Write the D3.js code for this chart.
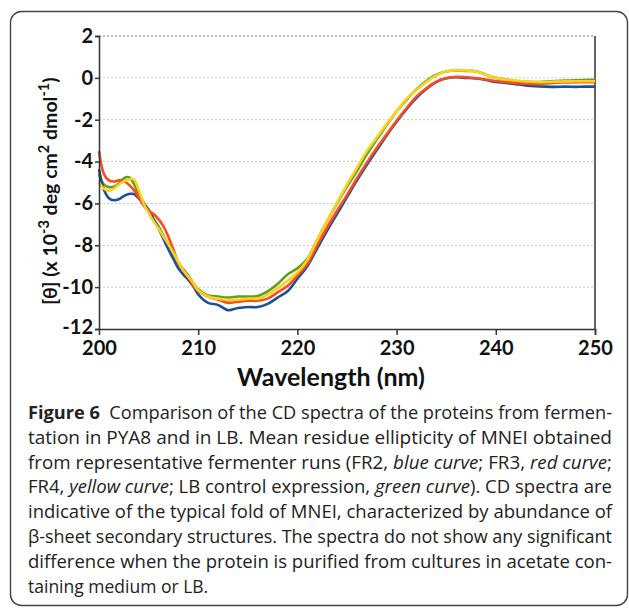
<!DOCTYPE html>
<html>
<head>
<meta charset="utf-8">
<script src="https://cdn.jsdelivr.net/npm/d3@7"></script>
<style>
  body { margin: 0; background: #fff; }
  svg { display: block; }
</style>
</head>
<body>
<div id="chart"></div>
<script>
// wavelengths (nm) shared by all four spectra
var wavelength = [200, 200.5, 201, 201.5, 202, 202.5, 203, 203.5, 204, 204.5, 205, 205.5, 206, 206.5, 207, 207.5,
    208, 208.5, 209, 209.5, 210, 211, 212, 213, 214, 215, 216, 217, 218, 219, 220, 221, 222, 223, 224, 225,
    226, 227, 228, 229, 230, 231, 232, 233, 234, 235, 236, 237, 238, 239, 240, 241, 242, 243, 244, 245, 246,
    247, 248, 249, 250];

// FR2, blue curve
var fr2 = [-4.35, -5.35, -5.75, -5.85, -5.8, -5.65, -5.55, -5.55, -5.75, -6.0, -6.3, -6.75, -7.2, -7.7, -8.2, -8.65,
    -9.1, -9.4, -9.65, -9.95, -10.35, -10.75, -10.85, -11.1, -11.0, -10.95, -10.95, -10.8, -10.5, -10.2, -9.6, -9.0,
    -8.15, -7.3, -6.5, -5.7, -4.9, -4.15, -3.45, -2.75, -2.1, -1.5, -0.95, -0.53, -0.2, -0.02, 0.03, 0.0, -0.03,
    -0.1, -0.2, -0.24, -0.3, -0.36, -0.4, -0.42, -0.43, -0.42, -0.43, -0.42, -0.42];
// FR3, red curve
var fr3 = [-3.5, -4.6, -4.9, -4.95, -4.9, -4.92, -5.1, -5.35, -5.7, -6.1, -6.35, -6.5, -6.75, -7.1, -7.6, -8.2,
    -8.85, -9.2, -9.55, -9.9, -10.2, -10.45, -10.6, -10.75, -10.7, -10.65, -10.65, -10.55, -10.25, -9.95, -9.45, -8.9,
    -8.0, -7.15, -6.35, -5.6, -4.8, -4.05, -3.35, -2.7, -2.05, -1.45, -0.9, -0.5, -0.18, -0.02, 0.05, 0.03, -0.02,
    -0.08, -0.15, -0.2, -0.25, -0.28, -0.3, -0.27, -0.23, -0.22, -0.21, -0.21, -0.21];
// FR4, yellow curve
var fr4 = [-5.0, -5.3, -5.4, -5.3, -5.1, -4.95, -4.85, -4.85, -5.35, -6.0, -6.45, -6.85, -7.2, -7.6, -7.95, -8.35,
    -8.8, -9.2, -9.5, -9.8, -10.15, -10.45, -10.55, -10.6, -10.6, -10.55, -10.55, -10.35, -10.05, -9.7, -9.3, -8.7,
    -7.75, -6.85, -5.95, -5.1, -4.3, -3.5, -2.85, -2.2, -1.6, -1.0, -0.58, -0.2, 0.12, 0.3, 0.37, 0.35, 0.3,
    0.15, 0.0, -0.08, -0.13, -0.17, -0.2, -0.2, -0.18, -0.17, -0.16, -0.16, -0.16];
// LB control, green curve
var lb = [-4.6, -5.1, -5.22, -5.2, -5.05, -4.8, -4.75, -5.05, -5.55, -5.95, -6.35, -6.75, -7.1, -7.55, -7.95, -8.4,
    -8.85, -9.15, -9.45, -9.8, -10.1, -10.4, -10.45, -10.5, -10.45, -10.45, -10.42, -10.2, -9.85, -9.4, -9.1, -8.65,
    -7.75, -6.85, -6.0, -5.2, -4.45, -3.65, -2.95, -2.25, -1.6, -1.05, -0.55, -0.15, 0.15, 0.3, 0.35, 0.33, 0.32,
    0.15, 0.0, -0.08, -0.15, -0.18, -0.2, -0.18, -0.15, -0.13, -0.12, -0.1, -0.1];

var seriesNames = ["LB", "FR2", "FR3", "FR4"];
var seriesValues = [lb, fr2, fr3, fr4];
var seriesColors = ["#5b9f2a", "#1c4f9a", "#ff4b1c", "#ffd21a"];

var xTicks = [200, 210, 220, 230, 240, 250];
var yTicks = [-12, -10, -8, -6, -4, -2, 0, 2];

var captionLines = [
    [["b", "Figure 6"], ["", "  Comparison of the CD spectra of the proteins from fermen-"]],
    [["", "tation in PYA8 and in LB. Mean residue ellipticity of MNEI obtained"]],
    [["", "from representative fermenter runs (FR2, "], ["i", "blue curve"], ["", "; FR3, "], ["i", "red curve"], ["", ";"]],
    [["", "FR4, "], ["i", "yellow curve"], ["", "; LB control expression, "], ["i", "green curve"], ["", "). CD spectra are"]],
    [["", "indicative of the typical fold of MNEI, characterized by abundance of"]],
    [["", "\u03b2-sheet secondary structures. The spectra do not show any significant"]],
    [["", "difference when the protein is purified from cultures in acetate con-"]],
    [["", "taining medium or LB."]]
];

var W = 629, H = 613;
var margin = {top: 36, right: 34, bottom: 284, left: 99}
    , width = W - margin.left - margin.right
    , height = H - margin.top - margin.bottom;

var svg = d3.select("#chart").append("svg")
    .attr("width", W)
    .attr("height", H);

// frame round the figure
svg.append("rect")
    .attr("x", 10.5).attr("y", 11.5)
    .attr("width", 617).attr("height", 594)
    .attr("rx", 11)
    .attr("fill", "none")
    .attr("stroke", "#444")
    .attr("stroke-width", 1.4);

var g = svg.append("g")
    .attr("transform", "translate(" + margin.left + "," + margin.top + ")");

var xScale = d3.scaleLinear().domain([200, 250]).range([0, width]);
var yScale = d3.scaleLinear().domain([-12, 2]).range([height, 0]);

// dotted grid
g.append("g").selectAll("line")
    .data(yTicks.filter(function(d) { return d > -12; }))
    .enter().append("line")
    .attr("x1", 0).attr("x2", width)
    .attr("y1", function(d) { return yScale(d); })
    .attr("y2", function(d) { return yScale(d); })
    .attr("stroke", function(d) { return d === 2 ? "#777" : "#c8c8c8"; })
    .attr("stroke-width", 1)
    .attr("stroke-dasharray", "2,2");

// right border of the plot
g.append("line")
    .attr("x1", width).attr("x2", width)
    .attr("y1", 0).attr("y2", height)
    .attr("stroke", "#333").attr("stroke-width", 1.5);

var valueLine = d3.line()
    .x(function(d) { return xScale(d[0]); })
    .y(function(d) { return yScale(d[1]); })
    .curve(d3.curveCatmullRom.alpha(0.5));

g.append("g").selectAll("path")
    .data(seriesValues)
    .enter().append("path")
    .attr("class", function(d, i) { return "line " + seriesNames[i]; })
    .attr("d", function(vals) { return valueLine(wavelength.map(function(w, i) { return [w, vals[i]]; })); })
    .attr("fill", "none")
    .attr("stroke", function(d, i) { return seriesColors[i]; })
    .attr("stroke-width", 2.6)
    .attr("stroke-linejoin", "round");

// axes
var xAxis = g.append("g")
    .attr("transform", "translate(0," + height + ")")
    .call(d3.axisBottom(xScale).tickValues(xTicks).tickSize(6).tickPadding(6).tickFormat(d3.format("d")));

var yAxis = g.append("g")
    .call(d3.axisLeft(yScale).tickValues(yTicks).tickSize(4).tickPadding(2).tickFormat(function(d) { return String(d); }));

[xAxis, yAxis].forEach(function(a) {
    a.select(".domain").attr("stroke", "#333").attr("stroke-width", 1.5);
    a.selectAll(".tick line").attr("stroke", "#333").attr("stroke-width", 1.5);
    a.selectAll("text")
        .attr("fill", "#111")
        .style("font-family", "Lato, 'Open Sans', sans-serif")
        .style("font-weight", 700)
        .style("font-size", "20px");
});
xAxis.selectAll(".tick").filter(function(d) { return d === 200; }).select("line").remove();
// the -12 label sits a little higher so it clears the 200 label
yAxis.selectAll(".tick").filter(function(d) { return d === -12; }).select("text").attr("dy", "0.2em");

// axis titles
svg.append("text")
    .attr("x", 331).attr("y", 386)
    .attr("text-anchor", "middle")
    .style("font-family", "Lato, 'Open Sans', sans-serif")
    .style("font-weight", 700)
    .style("font-size", "25px")
    .attr("fill", "#111")
    .text("Wavelength (nm)");

var yLabel = svg.append("text")
    .attr("transform", "translate(57,191) rotate(-90)")
    .attr("text-anchor", "middle")
    .style("font-family", "Lato, 'Open Sans', sans-serif")
    .style("font-weight", 700)
    .style("font-size", "19.5px")
    .attr("fill", "#111");
var yParts = [["[\u03b8] (x 10", 0], ["-3", 1], [" deg cm", 0], ["2", 1], [" dmol", 0], ["-1", 1], [")", 0]];
var prevSup = 0;
yParts.forEach(function(p) {
    var shift = (p[1] - prevSup) * -8;
    yLabel.append("tspan")
        .attr("dy", shift)
        .style("font-size", p[1] ? "14.5px" : "19.5px")
        .text(p[0]);
    prevSup = p[1];
});

// caption
var cap = svg.append("g")
    .style("font-family", "'Open Sans', sans-serif")
    .style("font-size", "17.5px")
    .attr("fill", "#222");
captionLines.forEach(function(parts, li) {
    var t = cap.append("text")
        .attr("x", 28)
        .attr("y", 419 + li * 24.8)
        .attr("xml:space", "preserve")
        .style("white-space", "pre");
    if (li < captionLines.length - 1) {
        t.attr("textLength", 584).attr("lengthAdjust", "spacingAndGlyphs");
    }
    parts.forEach(function(p) {
        t.append("tspan")
            .style("font-weight", p[0] === "b" ? 700 : 400)
            .style("font-style", p[0] === "i" ? "italic" : "normal")
            .text(p[1]);
    });
});
</script>
</body>
</html>
